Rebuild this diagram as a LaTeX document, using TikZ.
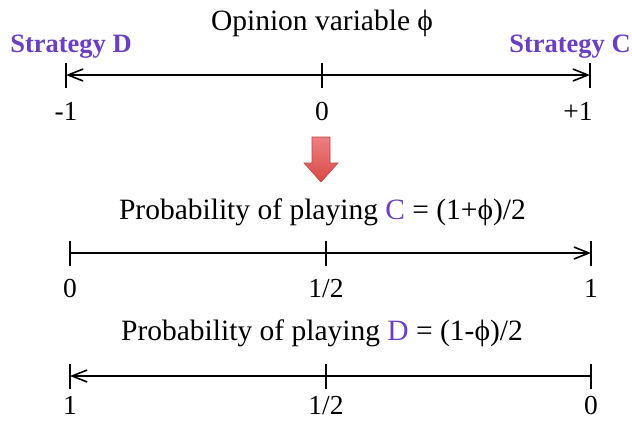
\documentclass[tikz,border=0pt]{standalone}
\usepackage{fontspec}
\setmainfont{Liberation Serif}
\usetikzlibrary{arrows.meta}
\definecolor{strat}{HTML}{6B3FC4}
\definecolor{redtop}{HTML}{EC8080}
\definecolor{redbot}{HTML}{D94A4A}
\definecolor{redline}{HTML}{C24242}
\begin{document}
\begin{tikzpicture}[x=1pt,y=-1pt,
  >={Straight Barb[length=15pt,width=12pt,line width=1.6pt]},
  axisline/.style={line width=1.8pt, black},
  tickline/.style={line width=1.8pt, black},
  title/.style={font=\fontsize{29.5}{34}\selectfont, anchor=base, inner sep=0pt},
  numlbl/.style={font=\fontsize{27.5}{32}\selectfont, anchor=base, inner sep=0pt},
  stratlbl/.style={font=\fontsize{26.5}{30}\selectfont\bfseries, text=strat, anchor=base, inner sep=0pt}]
\useasboundingbox (0,0) rectangle (632,421);
% top axis
\coordinate (t1) at (66,75);
\coordinate (t0) at (322,75);
\coordinate (t2) at (590,75);
\draw[axisline, <->] (t1) -- (t2);
\draw[tickline] (66,63) -- (66,88);
\draw[tickline] (322,63) -- (322,88);
\draw[tickline] (590,63) -- (590,88);
\node[title] (ttitle) at (322,30) {Opinion variable ϕ};
\node[stratlbl] (sd) at (71,52) {Strategy D};
\node[stratlbl] (sc) at (570,52) {Strategy C};
\node[numlbl] (lm1) at (66,120) {-1};
\node[numlbl] (l0) at (322,120) {0};
\node[numlbl] (lp1) at (578,120) {+1};
% red arrow
\shade[top color=redtop, bottom color=redbot, draw=redline, line width=0.6pt]
  (312,137) -- (330,137) -- (330,163) -- (338,163) -- (321,182) -- (304,163) -- (312,163) -- cycle;
% second axis
\coordinate (m1) at (70,253);
\coordinate (m0) at (326,253);
\coordinate (m2) at (591,253);
\draw[axisline, ->] (m1) -- (m2);
\draw[tickline] (70,241) -- (70,266);
\draw[tickline] (326,241) -- (326,266);
\draw[tickline] (591,241) -- (591,266);
\node[title] (mtitle) at (322.5,219) {Probability of playing \textcolor{strat}{C} = (1+ϕ)/2};
\node[numlbl] (ma) at (70,297) {0};
\node[numlbl] (mb) at (326,297) {1/2};
\node[numlbl] (mc) at (591,297) {1};
% third axis
\coordinate (b1) at (70,376);
\coordinate (b0) at (326,376);
\coordinate (b2) at (591,376);
\draw[axisline, <-] (b1) -- (b2);
\draw[tickline] (70,364) -- (70,389);
\draw[tickline] (326,364) -- (326,389);
\draw[tickline] (591,364) -- (591,389);
\node[title] (btitle) at (322,340) {Probability of playing \textcolor{strat}{D} = (1-ϕ)/2};
\node[numlbl] (ba) at (70,414) {1};
\node[numlbl] (bb) at (326,414) {1/2};
\node[numlbl] (bc) at (591,414) {0};
\end{tikzpicture}
\end{document}
